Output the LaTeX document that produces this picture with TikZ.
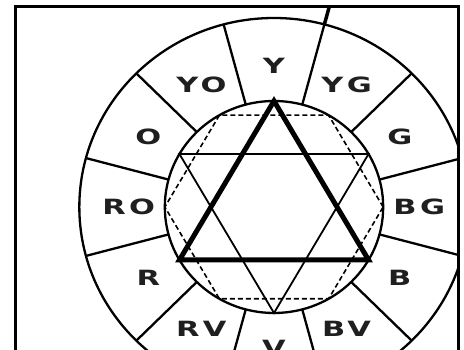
\documentclass[tikz,border=0pt]{standalone}
\usepackage{fontspec}
\newfontfamily\labfont[FakeStretch=1.45,LetterSpace=16]{DejaVu Sans}
\begin{document}
\begin{tikzpicture}[x=1pt,y=1pt,
  ring/.style={line width=2.3pt},
  divider/.style={line width=2.3pt},
  hexa/.style={line width=1.6pt, dash pattern=on 5pt off 3pt},
  thinstar/.style={line width=1.8pt},
  boldtri/.style={line width=5pt},
  framel/.style={line width=3pt},
  lab/.style={font=\labfont\bfseries\fontsize{21}{21}\selectfont, inner sep=0pt, anchor=center, text=black!88}]
\useasboundingbox (0,0) rectangle (464,350);
\begin{scope}
\clip (15,0) rectangle (458.5,343);
\begin{scope}[shift={(274,143)}, xscale=1.03]
  \draw[ring] (0,0) circle [radius=189];
  \draw[ring] (0,0) circle [radius=106];
  \foreach \a in {15,45,...,345} \draw[divider] (\a:106) -- (\a:189);
  \draw[line width=3.5pt] (75:189) -- (75:215);
  \draw[hexa] (0:106) -- (60:106) -- (120:106) -- (180:106) -- (240:106) -- (300:106) -- cycle;
  \draw[thinstar] (-90:106) -- (30:106) -- (150:106) -- cycle;
  \draw[boldtri] (90:106) -- (210:106) -- (330:106) -- cycle;
  \node[lab] (lY)  at (90:141)  {Y};
  \node[lab] (lYG) at (60:141)  {YG};
  \node[lab] (lG)  at (30:141)  {G};
  \node[lab] (lBG) at (0:141)   {BG};
  \node[lab] (lB)  at (-30:141) {B};
  \node[lab] (lBV) at (-60:141) {BV};
  \node[lab] (lV)  at (-90:141) {V};
  \node[lab] (lRV) at (-120:141) {RV};
  \node[lab] (lR)  at (-150:141) {R};
  \node[lab] (lRO) at (180:141) {RO};
  \node[lab] (lO)  at (150:141) {O};
  \node[lab] (lYO) at (120:141) {YO};
\end{scope}
\end{scope}
\draw[framel] (15,0) -- (15,343) -- (458.5,343) -- (458.5,0);
\end{tikzpicture}
\end{document}
